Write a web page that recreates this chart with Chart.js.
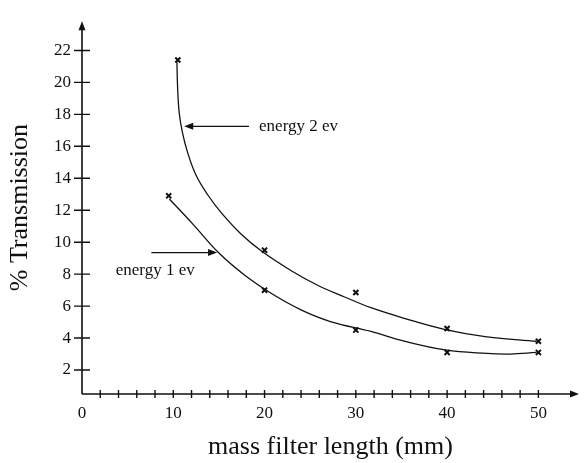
<!DOCTYPE html>
<html><head><meta charset="utf-8">
<script src="https://cdn.jsdelivr.net/npm/chart.js@4.4.1/dist/chart.umd.min.js"></script>
<style>html,body{margin:0;padding:0;background:#fff}#wrap{width:585px;height:463px}</style>
</head><body><div id="wrap"><canvas id="c" width="585" height="463"></canvas></div>
<script>
// measured points (mass filter length mm, % transmission)
const ev2X = [10.5, 20, 30, 40, 50];
const ev2Y = [21.4, 9.5, 6.85, 4.6, 3.8];
const ev1X = [9.5, 20, 30, 40, 50];
const ev1Y = [12.9, 7.0, 4.5, 3.1, 3.1];
// fitted curves
const fit2X = [10.4, 10.47, 10.65, 11.0, 11.55, 12.47, 13.73, 15.36, 17.36, 19.7, 22.97, 25.87, 28.77, 31.66, 35.3, 39.8, 44.35, 49.8];
const fit2Y = [21.3, 19.73, 18.1, 16.87, 15.65, 14.22, 13.0, 11.77, 10.55, 9.43, 8.2, 7.29, 6.57, 5.9, 5.24, 4.53, 4.08, 3.8];
const fit1X = [9.57, 12.1, 15.0, 17.9, 20.8, 24.05, 27.3, 31.66, 35.3, 39.8, 44.35, 46.9, 49.8];
const fit1Y = [12.7, 11.16, 9.32, 7.9, 6.77, 5.75, 5.02, 4.42, 3.81, 3.26, 3.04, 3.0, 3.1];
// axes
const xTicks = [2,4,6,8,10,12,14,16,18,20,22,24,26,28,30,32,34,36,38,40,42,44,46,48,50];
const xLabels = [0, 10, 20, 30, 40, 50];
const yTicks = [2,4,6,8,10,12,14,16,18,20,22];
// annotations: [text, textX, textY, arrowFromX, arrowToX, arrowY]
const notes = [
  ["energy 2 ev", 19.4, 17.25, 18.3, 11.2, 17.25],
  ["energy 1 ev", 3.7, 8.25, 7.6, 14.8, 9.35]
];

const pts = (xs, ys) => xs.map((x, i) => ({x, y: ys[i]}));
const INK = '#111';
const SERIF = '"Liberation Serif", "DejaVu Serif", serif';

const axesPlugin = {
  id: 'axes',
  afterDraw(chart) {
    const {ctx} = chart;
    const xs = chart.scales.x, ys = chart.scales.y;
    const x0 = xs.getPixelForValue(0), y0 = ys.bottom;
    const xEnd = xs.right, yTop = ys.top;
    ctx.save();
    ctx.strokeStyle = INK; ctx.fillStyle = INK; ctx.lineWidth = 1.6;
    ctx.beginPath();
    ctx.moveTo(x0, y0); ctx.lineTo(x0, yTop + 6);
    ctx.moveTo(x0, y0); ctx.lineTo(xEnd - 6, y0);
    ctx.stroke();
    // arrowheads
    ctx.beginPath();
    ctx.moveTo(x0, yTop); ctx.lineTo(x0 - 3.5, yTop + 9); ctx.lineTo(x0 + 3.5, yTop + 9); ctx.closePath(); ctx.fill();
    ctx.beginPath();
    ctx.moveTo(xEnd, y0); ctx.lineTo(xEnd - 9, y0 - 3.5); ctx.lineTo(xEnd - 9, y0 + 3.5); ctx.closePath(); ctx.fill();
    // ticks
    ctx.lineWidth = 1.4;
    ctx.beginPath();
    yTicks.forEach(v => { const p = ys.getPixelForValue(v); ctx.moveTo(x0 - 8, p); ctx.lineTo(x0 + 8, p); });
    xTicks.forEach(v => { const p = xs.getPixelForValue(v); ctx.moveTo(p, y0 - 4); ctx.lineTo(p, y0 + 4); });
    ctx.stroke();
    // annotations
    ctx.font = '17px ' + SERIF;
    ctx.textBaseline = 'middle'; ctx.textAlign = 'left';
    ctx.lineWidth = 1.3;
    notes.forEach(([t, tx, ty, ax1, ax2, ay]) => {
      ctx.fillText(t, xs.getPixelForValue(tx), ys.getPixelForValue(ty));
      const a1 = xs.getPixelForValue(ax1), a2 = xs.getPixelForValue(ax2), py = ys.getPixelForValue(ay);
      const dir = a2 > a1 ? 1 : -1;
      ctx.beginPath(); ctx.moveTo(a1, py); ctx.lineTo(a2 - dir * 6, py); ctx.stroke();
      ctx.beginPath(); ctx.moveTo(a2, py); ctx.lineTo(a2 - dir * 9, py - 3.5); ctx.lineTo(a2 - dir * 9, py + 3.5); ctx.closePath(); ctx.fill();
    });
    ctx.restore();
  }
};

const lineDs = (data) => ({type: 'line', data, showLine: true, borderColor: INK, borderWidth: 1.3,
  pointRadius: 0, tension: 0.4, fill: false});
const markDs = (data) => ({type: 'scatter', data, showLine: false, pointStyle: 'crossRot',
  pointRadius: 3.6, borderColor: INK, borderWidth: 2, pointBackgroundColor: INK});

new Chart(document.getElementById('c'), {
  type: 'scatter',
  data: {datasets: [
    lineDs(pts(fit2X, fit2Y)), lineDs(pts(fit1X, fit1Y)),
    markDs(pts(ev2X, ev2Y)), markDs(pts(ev1X, ev1Y))
  ]},
  options: {
    responsive: false, animation: false, events: [],
    layout: {padding: {top: 13, right: 2, left: 0, bottom: 0}},
    plugins: {legend: {display: false}, tooltip: {enabled: false}},
    scales: {
      x: {
        type: 'linear', min: 0, max: 54.45,
        grid: {display: false, drawTicks: false}, border: {display: false},
        afterBuildTicks: s => { s.ticks = xLabels.map(v => ({value: v})); },
        afterFit: s => { s.height = 69; },
        ticks: {color: INK, padding: 9, font: {family: SERIF, size: 17}, maxRotation: 0, autoSkip: false},
        title: {display: true, text: 'mass filter length (mm)', color: INK,
          font: {family: SERIF, size: 26, lineHeight: 1}, padding: {top: 0, bottom: 3}}
      },
      y: {
        type: 'linear', min: 0.5, max: 23.83,
        grid: {display: false, drawTicks: false}, border: {display: false},
        afterBuildTicks: s => { s.ticks = yTicks.map(v => ({value: v})); },
        afterFit: s => { s.width = 82; },
        ticks: {color: INK, padding: 11, font: {family: SERIF, size: 17}, autoSkip: false},
        title: {display: true, text: '% Transmission', color: INK,
          font: {family: SERIF, size: 26, lineHeight: 1}, padding: {top: 7, bottom: 0}}
      }
    }
  },
  plugins: [axesPlugin]
});
</script></body></html>
